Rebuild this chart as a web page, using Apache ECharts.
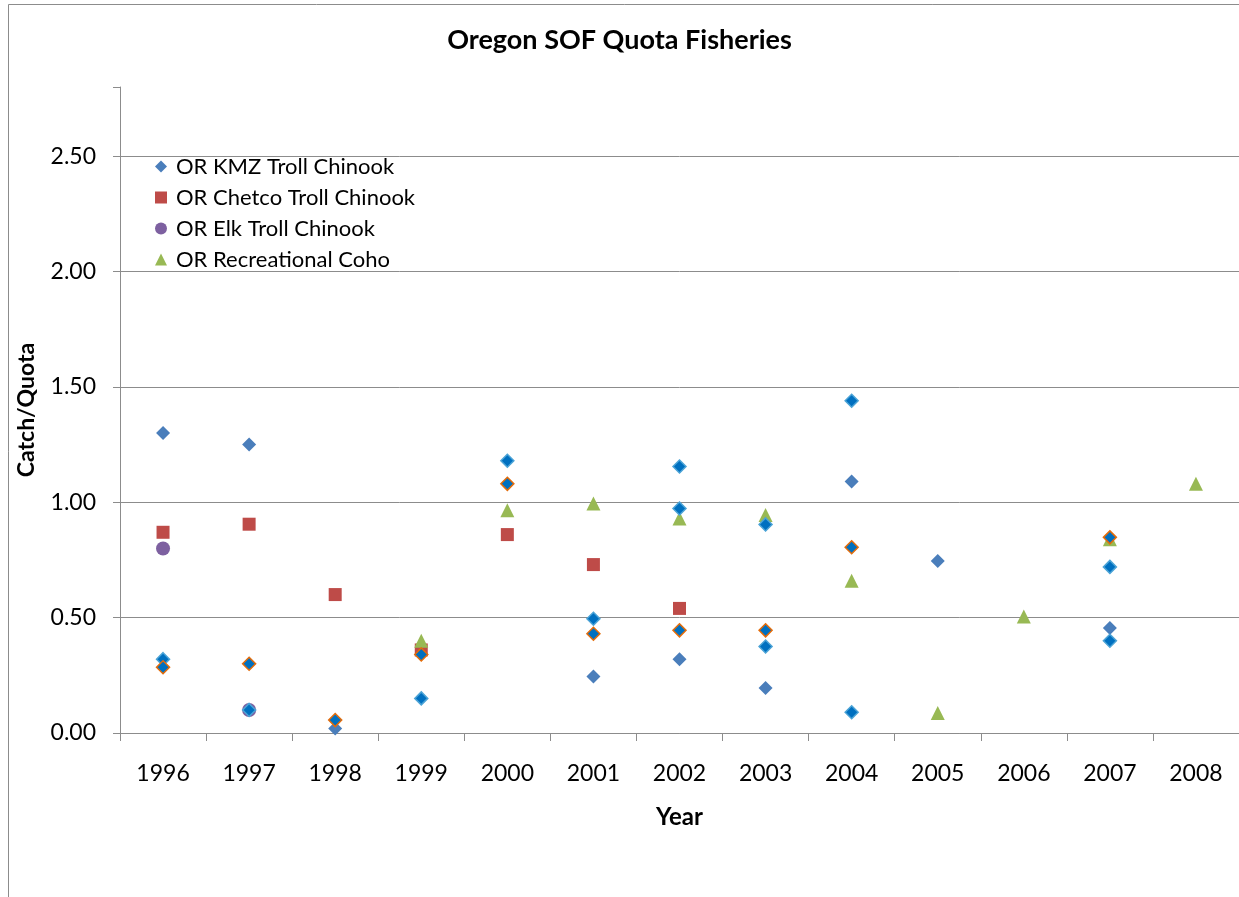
<!DOCTYPE html>
<html>
<head>
<meta charset="utf-8">
<title>Oregon SOF Quota Fisheries</title>
<script src="https://cdn.jsdelivr.net/npm/echarts@6/dist/echarts.min.js"></script>
<style>
  html, body { margin: 0; padding: 0; background: #fff; }
  #chart { width: 1239px; height: 897px; }
</style>
</head>
<body>
<div id="chart"></div>
<script>
// values, one slot per year (null = no point)
var years = ['1996', '1997', '1998', '1999', '2000', '2001', '2002', '2003', '2004', '2005', '2006', '2007', '2008'];
var kmzTroll = [1.30, 1.25, 0.02, null, null, 0.245, 0.32, 0.195, 1.09, 0.745, null, 0.455, null];
var chetcoTroll = [0.87, 0.905, 0.60, 0.36, 0.86, 0.73, 0.54, null, null, null, null, null, null];
var elkTroll = [0.80, 0.10, null, null, null, null, null, null, null, null, null, null, null];
var recCoho = [null, null, null, 0.40, 0.965, 0.995, 0.93, 0.945, 0.66, 0.087, 0.505, 0.84, 1.08];
// unlabelled diamond series (not in legend)
var kmzOrange = [0.285, 0.30, 0.056, 0.34, 1.08, 0.43, 0.445, 0.445, 0.805, null, null, 0.848, null];
var kmzLight = [0.32, 0.10, null, 0.15, 1.18, 0.495, 1.155, 0.375, 1.44, null, null, 0.72, null];
var kmzLight2 = [null, null, null, null, null, null, 0.973, 0.904, 0.09, null, null, 0.40, null];

var font = 'Lato, "Open Sans", sans-serif';
var gray = '#8c8c8c';

var chart = echarts.init(document.getElementById('chart'));

function marker(name, data, symbol, size, color, border) {
  return {
    name: name,
    type: 'scatter',
    data: data,
    symbol: symbol,
    symbolSize: size,
    itemStyle: {
      color: color,
      borderColor: border || color,
      borderWidth: border ? 1.5 : 0,
      opacity: 1
    },
    emphasis: { disabled: true }
  };
}

chart.setOption({
  animation: false,
  backgroundColor: '#fff',
  textStyle: { fontFamily: font },
  graphic: [{
    type: 'rect',
    shape: { x: 8.5, y: 4.5, width: 1300, height: 1000 },
    style: { fill: null, stroke: gray, lineWidth: 1 },
    silent: true
  }],
  title: {
    text: 'Oregon SOF Quota Fisheries',
    left: 'center',
    top: 22,
    textStyle: { fontFamily: font, fontSize: 27, fontWeight: 'bold', color: '#000' }
  },
  legend: {
    orient: 'vertical',
    left: 150,
    top: 150,
    itemWidth: 12,
    itemHeight: 12,
    itemGap: 8,
    data: [
      { name: 'OR KMZ Troll Chinook', icon: 'diamond' },
      { name: 'OR Chetco Troll Chinook', icon: 'rect' },
      { name: 'OR Elk Troll Chinook', icon: 'circle' },
      { name: 'OR Recreational Coho', icon: 'triangle' }
    ],
    textStyle: { fontFamily: font, fontSize: 22, lineHeight: 23, color: '#000', padding: [0, 0, 0, 4] }
  },
  grid: { left: 120, top: 87, right: 0, bottom: 164 },
  xAxis: {
    type: 'category',
    data: years,
    boundaryGap: true,
    name: 'Year',
    nameLocation: 'middle',
    nameGap: 72,
    nameTextStyle: { fontFamily: font, fontSize: 24, fontWeight: 'bold', color: '#000' },
    axisLine: { lineStyle: { color: gray, width: 1 } },
    axisTick: { show: true, length: 8, lineStyle: { color: gray } },
    axisLabel: { fontFamily: font, fontSize: 23, color: '#000', margin: 29 },
    splitLine: { show: false }
  },
  yAxis: {
    type: 'value',
    min: 0,
    max: 2.8,
    interval: 0.5,
    name: 'Catch/Quota',
    nameLocation: 'middle',
    nameGap: 82,
    nameTextStyle: { fontFamily: font, fontSize: 23, fontWeight: 'bold', color: '#000' },
    axisLine: { show: true, lineStyle: { color: gray, width: 1 } },
    axisTick: { show: true, length: 7, lineStyle: { color: gray } },
    axisLabel: {
      fontFamily: font, fontSize: 23, color: '#000', margin: 24,
      formatter: function (v) {
        return Math.abs(v / 0.5 - Math.round(v / 0.5)) < 1e-6 ? v.toFixed(2) : '';
      }
    },
    splitLine: { show: true, showMaxLine: false, lineStyle: { color: gray, width: 1 } }
  },
  series: [
    marker('OR KMZ Troll Chinook', kmzTroll, 'diamond', 14, '#4a7ebb'),
    marker('OR Chetco Troll Chinook', chetcoTroll, 'rect', 13, '#be4b48'),
    marker('OR Elk Troll Chinook', elkTroll, 'circle', 14, '#7d60a0'),
    marker('OR Recreational Coho', recCoho, 'triangle', 14, '#98b954'),
    marker('KMZ b', kmzLight, 'diamond', 13, '#0070c0', '#4ba3d6'),
    marker('KMZ d', kmzLight2, 'diamond', 13, '#0070c0', '#4ba3d6'),
    marker('KMZ c', kmzOrange, 'diamond', 13, '#0070c0', '#e46c0a')
  ]
});
</script>
</body>
</html>
